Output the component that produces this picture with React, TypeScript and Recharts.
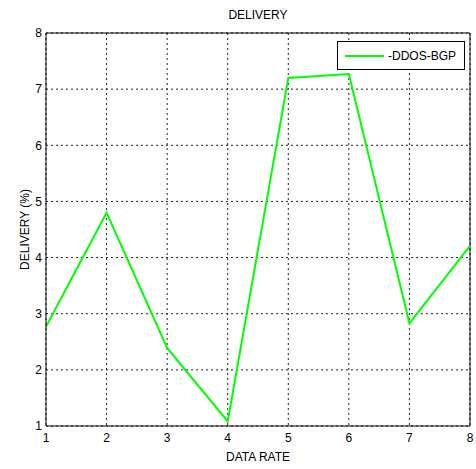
import {
  LineChart,
  Line,
  XAxis,
  YAxis,
  CartesianGrid,
  ReferenceLine,
} from "recharts";

const dataRates = [1, 2, 3, 4, 5, 6, 7, 8];
const deliveryDdosBgp = [2.77, 4.8, 2.39, 1.08, 7.2, 7.27, 2.83, 4.21];
const xTicks = [1, 2, 3, 4, 5, 6, 7, 8];
const yTicks = [1, 2, 3, 4, 5, 6, 7, 8];
const seriesName = "-DDOS-BGP";

const data = dataRates.map((rate, i) => ({
  rate,
  delivery: deliveryDdosBgp[i],
}));

const font = "'Liberation Sans', Arial, sans-serif";

// legend box sits inside the top-right of the plot
const LegendBox = () => (
  <div
    style={{
      position: "absolute",
      left: 337,
      top: 41,
      border: "1px solid #000",
      background: "#fff",
      width: 128,
      height: 29,
      display: "flex",
      alignItems: "center",
      fontFamily: font,
      fontSize: 12,
      color: "#000",
      boxSizing: "border-box",
    }}
  >
    <svg width={50} height={10}>
      <line x1={7} y1={5} x2={46} y2={5} stroke="#00ff00" strokeWidth={2} />
    </svg>
    <span>{seriesName}</span>
  </div>
);

const App = () => {
  return (
    <div
      style={{
        position: "absolute",
        left: 0,
        top: 0,
        width: 476,
        height: 469,
        background: "#fff",
      }}
    >
      <div
        style={{
          position: "absolute",
          left: 0,
          width: 516,
          top: 8,
          textAlign: "center",
          fontFamily: font,
          fontSize: 12,
          color: "#000",
        }}
      >
        DELIVERY
      </div>
      <LineChart
        width={476}
        height={469}
        data={data}
        margin={{ top: 33, right: 6, bottom: 0, left: 0 }}
      >
        <CartesianGrid stroke="#222" strokeDasharray="2 3" />
        <XAxis
          dataKey="rate"
          type="number"
          domain={[1, 8]}
          ticks={xTicks}
          height={43}
          tickLine={false}
          tickSize={0}
          tickMargin={7}
          axisLine={{ stroke: "#000" }}
          tick={{ fill: "#000", fontSize: 12, fontFamily: font }}
          label={{
            value: "DATA RATE",
            position: "insideBottom",
            offset: 8,
            style: { fill: "#000", fontSize: 12, fontFamily: font },
          }}
        />
        <YAxis
          type="number"
          domain={[1, 8]}
          ticks={yTicks}
          width={46}
          tickLine={false}
          tickSize={0}
          tickMargin={4}
          axisLine={{ stroke: "#000" }}
          tick={{ fill: "#000", fontSize: 12, fontFamily: font }}
          label={{
            value: "DELIVERY (%)",
            angle: -90,
            position: "insideLeft",
            offset: 25,
            style: {
              textAnchor: "middle",
              fill: "#000",
              fontSize: 12,
              fontFamily: font,
            },
          }}
        />
        <ReferenceLine y={8} stroke="#000" />
        <ReferenceLine x={8} stroke="#000" />
        <Line
          type="linear"
          dataKey="delivery"
          name={seriesName}
          stroke="#00ff00"
          strokeWidth={2}
          dot={false}
          isAnimationActive={false}
        />
      </LineChart>
      <LegendBox />
    </div>
  );
};

export default App;
